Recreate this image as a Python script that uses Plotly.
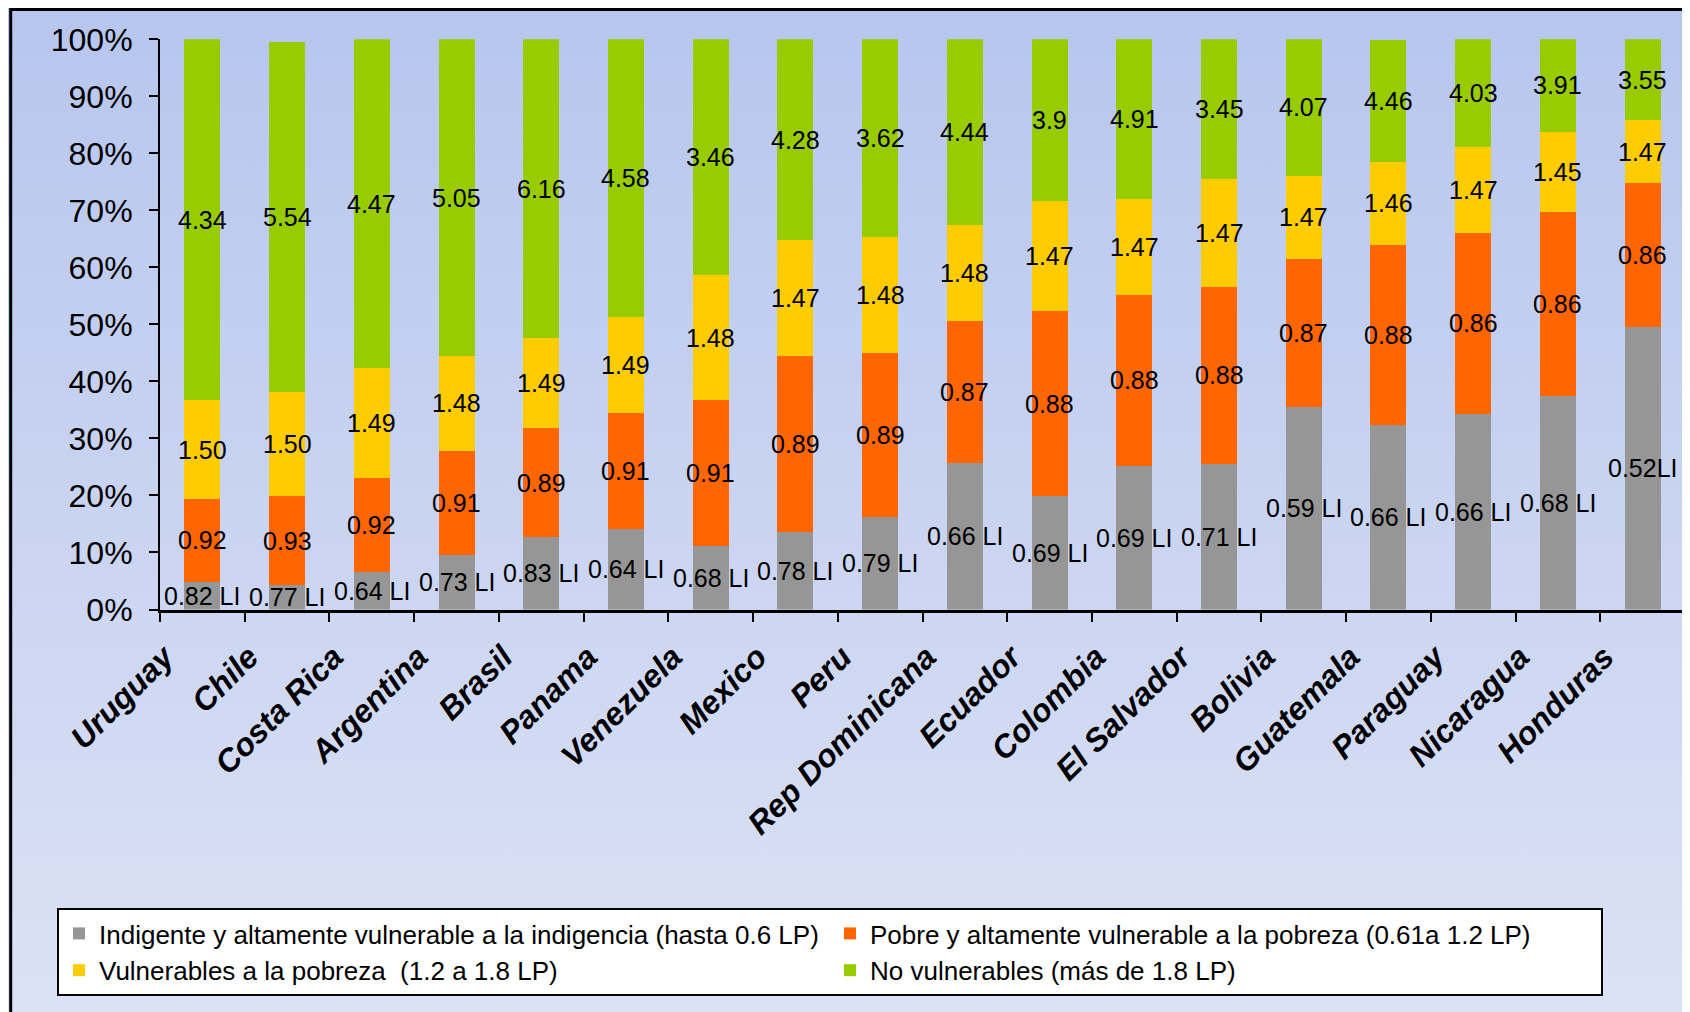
import base64
import plotly.graph_objects as go

countries = ["Uruguay", "Chile", "Costa Rica", "Argentina", "Brasil", "Panama",
             "Venezuela", "Mexico", "Peru", "Rep Dominicana", "Ecuador", "Colombia",
             "El Salvador", "Bolivia", "Guatemala", "Paraguay", "Nicaragua", "Honduras"]

# share of population (%) per group
indigente = [4.9, 4.3, 6.5, 9.6, 12.7, 14.1, 11.2, 13.6, 16.2, 25.7, 19.9, 25.2,
             25.5, 35.5, 32.4, 34.3, 37.4, 49.5]
pobre = [14.5, 15.6, 16.6, 18.2, 19.1, 20.4, 25.5, 30.9, 28.8, 24.9, 32.4, 30.0,
         31.1, 25.9, 31.6, 31.8, 32.3, 25.3]
vulnerable = [17.3, 18.2, 19.3, 16.7, 15.8, 16.8, 22.0, 20.3, 20.3, 16.8, 19.3, 16.8,
              18.9, 14.7, 14.5, 15.0, 14.1, 11.0]
no_vulnerable = [63.3, 61.4, 57.6, 55.5, 52.4, 48.7, 41.3, 35.2, 34.7, 32.6, 28.4, 28.0,
                 24.5, 23.9, 21.3, 18.9, 16.2, 14.2]

# data labels (average income ratio of each group)
lbl_indigente = ["0.82 LI", "0.77 LI", "0.64 LI", "0.73 LI", "0.83 LI", "0.64 LI",
                 "0.68 LI", "0.78 LI", "0.79 LI", "0.66 LI", "0.69 LI", "0.69 LI",
                 "0.71 LI", "0.59 LI", "0.66 LI", "0.66 LI", "0.68 LI", "0.52LI"]
lbl_pobre = ["0.92", "0.93", "0.92", "0.91", "0.89", "0.91", "0.91", "0.89", "0.89",
             "0.87", "0.88", "0.88", "0.88", "0.87", "0.88", "0.86", "0.86", "0.86"]
lbl_vulnerable = ["1.50", "1.50", "1.49", "1.48", "1.49", "1.49", "1.48", "1.47", "1.48",
                  "1.48", "1.47", "1.47", "1.47", "1.47", "1.46", "1.47", "1.45", "1.47"]
lbl_no_vulnerable = ["4.34", "5.54", "4.47", "5.05", "6.16", "4.58", "3.46", "4.28", "3.62",
                     "4.44", "3.9", "4.91", "3.45", "4.07", "4.46", "4.03", "3.91", "3.55"]

series = [
    ("Indigente y altamente vulnerable a la indigencia (hasta 0.6 LP)", indigente, lbl_indigente, "#969696"),
    ("Pobre y altamente vulnerable a la pobreza (0.61a 1.2 LP)", pobre, lbl_pobre, "#ff6600"),
    ("Vulnerables a la pobreza  (1.2 a 1.8 LP)", vulnerable, lbl_vulnerable, "#ffcc00"),
    ("No vulnerables (más de 1.8 LP)", no_vulnerable, lbl_no_vulnerable, "#99cc00"),
]

W, H = 1690, 1012
OFF = 8  # page body margin, positions below are in window pixels
FONT = "Liberation Sans, Arial, sans-serif"


def px_x(x):
    return (x - OFF) / W


def px_y(y):
    return 1 - (y - OFF) / H


fig = go.Figure()
base = [0.0] * len(countries)
annotations = []
for name, vals, labels, color in series:
    fig.add_trace(go.Bar(x=countries, y=vals, name=name, marker_color=color,
                         marker_line_width=0, hoverinfo="skip"))
    for i, c in enumerate(countries):
        annotations.append(dict(x=c, y=base[i] + vals[i] / 2, text=labels[i],
                                showarrow=False, font=dict(size=25, color="black", family=FONT)))
        base[i] += vals[i]

# vertical gradient background as an svg image
svg = (f'<svg xmlns="http://www.w3.org/2000/svg" width="{W}" height="{H}" preserveAspectRatio="none">'
       '<defs><linearGradient id="g" x1="0" y1="0" x2="0" y2="1">'
       '<stop offset="0" stop-color="#b7c6ee"/><stop offset="1" stop-color="#dce2f5"/>'
       '</linearGradient></defs>'
       f'<rect width="{W}" height="{H}" fill="url(#g)"/></svg>')
bg_src = "data:image/svg+xml;base64," + base64.b64encode(svg.encode()).decode()

fig.update_layout(
    template="none",
    width=W, height=H,
    margin=dict(l=0, r=0, t=0, b=0),
    barmode="stack",
    bargap=0.575,
    paper_bgcolor="#cdd6f2",
    plot_bgcolor="rgba(0,0,0,0)",
    font=dict(family=FONT, color="black"),
    images=[dict(source=bg_src, xref="paper", yref="paper", x=0, y=1, sizex=1, sizey=1,
                 sizing="stretch", layer="below")],
    xaxis=dict(domain=[px_x(160), px_x(1685)], automargin=False, showgrid=False,
               showline=True, linecolor="black", linewidth=3,
               ticks="outside", tickson="boundaries", ticklen=9, tickwidth=2, tickcolor="black",
               tickangle=-45, ticklabelshift=-38, ticklabelstandoff=13,
               tickfont=dict(size=32, family=FONT, weight="bold", style="italic")),
    yaxis=dict(domain=[px_y(609.5), px_y(39.3)], automargin=False, range=[0, 100],
               dtick=10, ticksuffix="%", showgrid=False, zeroline=False,
               showline=True, linecolor="black", linewidth=2,
               ticks="outside", ticklen=9, tickwidth=2, tickcolor="black",
               ticklabelstandoff=10,
               tickfont=dict(size=32, family=FONT)),
    legend=dict(orientation="h", traceorder="normal", x=px_x(57), y=px_y(908),
                xanchor="left", yanchor="top", bgcolor="white", bordercolor="black",
                borderwidth=2, entrywidth=726, entrywidthmode="pixels", itemwidth=30,
                font=dict(size=26, family=FONT)),
    annotations=annotations,
    shapes=[dict(type="rect", xref="paper", yref="paper", x0=px_x(10.7), x1=1.02,
                 y0=-0.02, y1=px_y(9.5), line=dict(color="black", width=3),
                 fillcolor="rgba(0,0,0,0)", layer="above")],
)

fig.write_html("out.html")
